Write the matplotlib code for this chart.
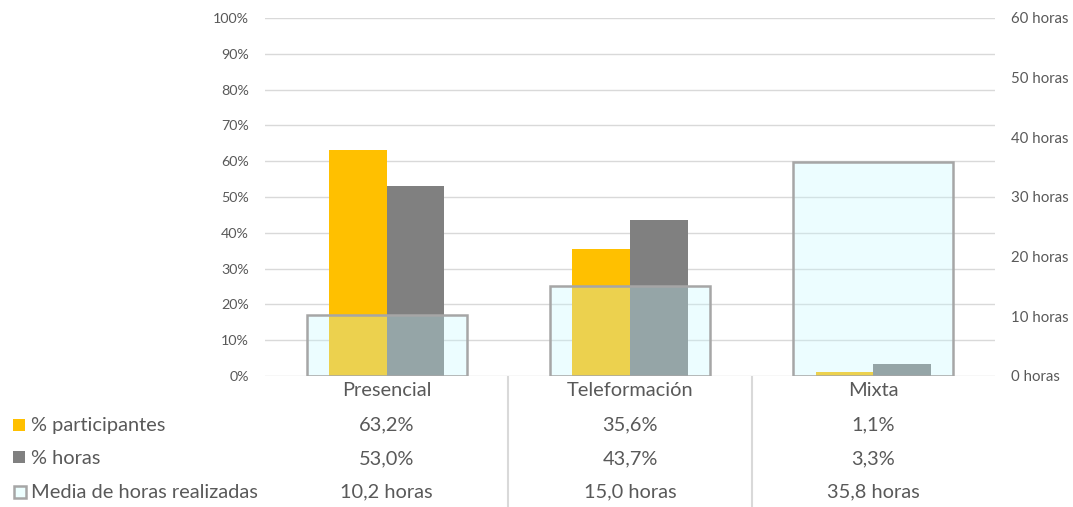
import numpy as np
import matplotlib.pyplot as plt
import matplotlib.transforms as mtransforms
from matplotlib.patches import Rectangle

plt.rcParams['font.family'] = ['Lato', 'DejaVu Sans']

categorias = ['Presencial', 'Teleformación', 'Mixta']
participantes = [63.2, 35.6, 1.1]
horas_pct = [53.0, 43.7, 3.3]
media_horas = [10.2, 15.0, 35.8]

naranja = '#FFC000'
gris = '#808080'
borde = '#A6A6A6'
relleno = (0.77, 0.975, 1.0, 0.31)
texto = '#595959'
rejilla = '#D9D9D9'

fig = plt.figure(figsize=(10.73, 5.07), dpi=100)
ax = fig.add_axes([0.247, 0.2584, 0.6803, 0.7061])
ax2 = ax.twinx()

x = np.arange(len(categorias))
w = 0.237
ax.bar(x - w / 2, participantes, w, color=naranja, zorder=2)
ax.bar(x + w / 2, horas_pct, w, color=gris, zorder=2)
ax2.bar(x, media_horas, 0.658, facecolor=relleno, edgecolor=borde, linewidth=1.8, zorder=3)

ax.set_xlim(-0.5, 2.5)
ax.set_ylim(0, 100)
ax2.set_ylim(0, 60)
ax.set_yticks(np.arange(0, 101, 10))
ax.set_yticklabels([f'{v}%' for v in range(0, 101, 10)])
ax2.set_yticks(np.arange(0, 61, 10))
ax2.set_yticklabels([f'{v} horas' for v in range(0, 61, 10)])
ax.grid(axis='y', color=rejilla, linewidth=1)
ax.set_axisbelow(True)
for a in (ax, ax2):
    for s in a.spines.values():
        s.set_visible(False)
ax.tick_params(axis='y', length=0, pad=11.5, labelsize=10.3, labelcolor=texto)
ax2.tick_params(axis='y', length=0, pad=11.5, labelsize=10.8, labelcolor=texto)
ax.set_xticks(x)
ax.set_xticklabels(categorias, fontsize=14.4, color=texto)
ax.tick_params(axis='x', length=0, pad=4)

# separadores de la tabla de datos
ax.vlines([0.5, 1.5], 0, -37, color=rejilla, linewidth=1.5, clip_on=False)

# tabla de datos
tr = mtransforms.blended_transform_factory(ax.transData, fig.transFigure)
filas_y = [1 - 425 / 507, 1 - 459 / 507, 1 - 492 / 507]
for i in range(len(categorias)):
    ax.text(x[i], filas_y[0], f'{participantes[i]:.1f}%'.replace('.', ','), transform=tr,
            ha='center', va='center', fontsize=14.4, color=texto)
    ax.text(x[i], filas_y[1], f'{horas_pct[i]:.1f}%'.replace('.', ','), transform=tr,
            ha='center', va='center', fontsize=14.4, color=texto)
    ax.text(x[i], filas_y[2], f'{media_horas[i]:.1f} horas'.replace('.', ','), transform=tr,
            ha='center', va='center', fontsize=14.4, color=texto)

# claves de leyenda
W, H = 1073, 507
fig.patches.append(Rectangle((13 / W, 1 - 431 / H), 12 / W, 12 / H, transform=fig.transFigure,
                             facecolor=naranja, edgecolor='none'))
fig.patches.append(Rectangle((13 / W, 1 - 463 / H), 12 / W, 12 / H, transform=fig.transFigure,
                             facecolor=gris, edgecolor='none'))
fig.patches.append(Rectangle((13.5 / W, 1 - 498 / H), 12 / W, 12 / H, transform=fig.transFigure,
                             facecolor='#EDFFFF', edgecolor=borde, linewidth=1.8))
nombres = ['% participantes', '% horas', 'Media de horas realizadas']
for nombre, yy in zip(nombres, filas_y):
    fig.text(31 / W, yy, nombre, ha='left', va='center', fontsize=14.4, color=texto)

fig.savefig('out.png', dpi=100)
